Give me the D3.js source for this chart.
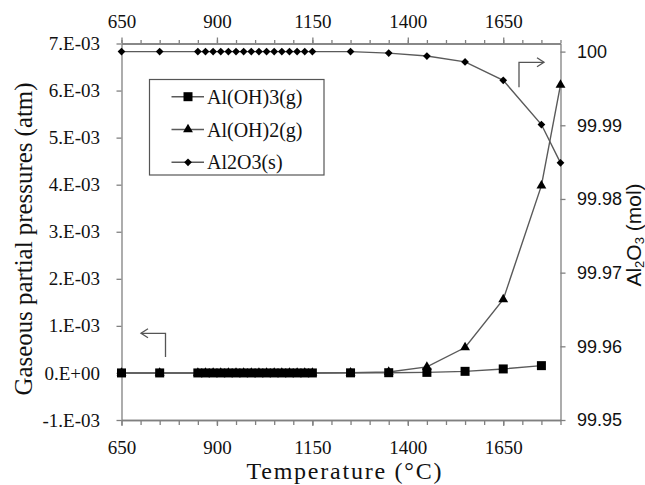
<!DOCTYPE html>
<html>
<head>
<meta charset="utf-8">
<script src="https://cdn.jsdelivr.net/npm/d3@7"></script>
<style>
  body { margin: 0; background: #fff; }
</style>
</head>
<body>
<div id="chart"></div>
<script>
/**
 * Data.
 */
// Temperature steps (°C).
const temperatures = [650, 750, 850, 870, 890, 910, 930, 950, 970, 990, 1010, 1030, 1050, 1070, 1090, 1110, 1130, 1150, 1250, 1350, 1450, 1550, 1650, 1750, 1800];
// Gaseous partial pressures (atm), left axis.
const alOH3 = [0, 0, 0, 0, 0, 0, 0, 0, 0, 0, 0, 0, 0, 0, 0, 0, 0, 0, 0.000002, 0.000005, 0.000012, 0.000034, 0.000085, 0.000155, null];
const alOH2 = [0, 0, 0, 0, 0, 0, 0, 0, 0, 0, 0, 0, 0, 0, 0, 0, 0, 0, 0.000003, 0.00002, 0.00013, 0.00054, 0.00156, 0.00398, 0.00612];
// Remaining Al2O3 (mol), right axis.
const al2o3 = [100, 100, 100, 100, 100, 100, 100, 100, 100, 100, 100, 100, 100, 100, 100, 100, 100, 100, 100, 99.9998, 99.9994, 99.9986, 99.9961, 99.9901, 99.9849];

const seriesNames = ["Al(OH)3(g)", "Al(OH)2(g)", "Al2O3(s)"];

// Ticks.
const xTicks = [650, 900, 1150, 1400, 1650];
const xMinorTicks = [650, 700, 750, 800, 850, 900, 950, 1000, 1050, 1100, 1150, 1200, 1250, 1300, 1350, 1400, 1450, 1500, 1550, 1600, 1650, 1700, 1750, 1800];
const leftTicks = [-0.001, 0, 0.001, 0.002, 0.003, 0.004, 0.005, 0.006, 0.007];
const leftTickLabels = ["-1.E-03", "0.E+00", "1.E-03", "2.E-03", "3.E-03", "4.E-03", "5.E-03", "6.E-03", "7.E-03"];
const rightTicks = [99.95, 99.96, 99.97, 99.98, 99.99, 100];
const rightTickLabels = ["99.95", "99.96", "99.97", "99.98", "99.99", "100"];

/**
 * SVG container.
 */
const width = 645;
const height = 485;
const marginTop = 43.5;
const marginRight = 84.5;
const marginBottom = 65;
const marginLeft = 121.5;

const serif = "'Liberation Serif', 'Times New Roman', serif";
const sans = "'Liberation Sans', Arial, sans-serif";
const axisColor = "#808080";
const lineColor = "#5a5a5a";

const svg = d3
  .select("#chart")
  .append("svg")
  .attr("width", width)
  .attr("height", height)
  .style("background", "#fff");

/**
 * Scales.
 */
const x = d3
  .scaleLinear()
  .domain([650, 1800])
  .range([marginLeft, width - marginRight]);

const yLeft = d3
  .scaleLinear()
  .domain([-0.001, 0.007])
  .range([height - marginBottom, marginTop]);

const yRight = d3
  .scaleLinear()
  .domain([99.95, 100.0011])
  .range([height - marginBottom, marginTop]);

/**
 * Axes.
 */
function styleAxis(g) {
  g.selectAll("path, line").attr("stroke", axisColor).attr("stroke-width", 1.3);
}

function styleLabels(g, family, size) {
  g.selectAll("text").attr("font-family", family).attr("font-size", size).attr("fill", "#111");
}

// Minor ticks on bottom and top.
svg
  .append("g")
  .attr("transform", `translate(0,${height - marginBottom})`)
  .call(d3.axisBottom(x).tickValues(xMinorTicks).tickSize(5).tickSizeOuter(0).tickFormat(""))
  .call(styleAxis);
svg
  .append("g")
  .attr("transform", `translate(0,${marginTop})`)
  .call(d3.axisTop(x).tickValues(xMinorTicks).tickSize(3.5).tickSizeOuter(0).tickFormat(""))
  .call(styleAxis);

// Major ticks with labels.
svg
  .append("g")
  .attr("transform", `translate(0,${height - marginBottom})`)
  .call(d3.axisBottom(x).tickValues(xTicks).tickSize(6).tickSizeOuter(0).tickPadding(15).tickFormat(d3.format("d")))
  .call(styleAxis)
  .call((g) => styleLabels(g, serif, 19));
svg
  .append("g")
  .attr("transform", `translate(0,${marginTop})`)
  .call(d3.axisTop(x).tickValues(xTicks).tickSize(6).tickSizeOuter(0).tickPadding(10).tickFormat(d3.format("d")))
  .call(styleAxis)
  .call((g) => styleLabels(g, serif, 19));

svg
  .append("g")
  .attr("transform", `translate(${marginLeft},0)`)
  .call(d3.axisLeft(yLeft).tickValues(leftTicks).tickSize(5).tickSizeOuter(0).tickPadding(16.5).tickFormat((d, i) => leftTickLabels[i]))
  .call(styleAxis)
  .call((g) => styleLabels(g, serif, 19));

svg
  .append("g")
  .attr("transform", `translate(${width - marginRight},0)`)
  .call(d3.axisRight(yRight).tickValues(rightTicks).tickSize(5).tickSizeOuter(0).tickPadding(11.5).tickFormat((d, i) => rightTickLabels[i]))
  .call(styleAxis)
  .call((g) => styleLabels(g, sans, 18));

/**
 * Series.
 */
const series = [
  { name: seriesNames[0], values: alOH3, y: yLeft, symbol: d3.symbolSquare, size: 81, rotate: 0 },
  { name: seriesNames[1], values: alOH2, y: yLeft, symbol: d3.symbolTriangle, size: 42, rotate: 0 },
  { name: seriesNames[2], values: al2o3, y: yRight, symbol: d3.symbolSquare, size: 30, rotate: 45 },
];

series.forEach((s) => {
  s.points = temperatures
    .map((t, i) => ({ t, v: s.values[i] }))
    .filter((d) => d.v !== null);

  const line = d3
    .line()
    .x((d) => x(d.t))
    .y((d) => s.y(d.v));

  svg
    .append("path")
    .datum(s.points)
    .attr("d", line)
    .attr("fill", "none")
    .attr("stroke", lineColor)
    .attr("stroke-width", 1.4);
});

// Markers drawn after all lines; the squares go on top so that the zero run reads as one bar.
[series[1], series[2], series[0]].forEach((s) => {
  svg
    .append("g")
    .selectAll("path")
    .data(s.points)
    .join("path")
    .attr("d", d3.symbol(s.symbol, s.size))
    .attr("transform", (d) => `translate(${x(d.t)},${s.y(d.v)}) rotate(${s.rotate})`)
    .attr("fill", "#000");
});

/**
 * Legend.
 */
const legend = svg.append("g");
legend
  .append("rect")
  .attr("x", 149.5)
  .attr("y", 79.5)
  .attr("width", 174.5)
  .attr("height", 95.5)
  .attr("fill", "#fff")
  .attr("stroke", "#555")
  .attr("stroke-width", 1.2);

series.forEach((s, i) => {
  const yPos = 96.7 + i * 32.8;
  legend
    .append("line")
    .attr("x1", 171.5)
    .attr("x2", 204)
    .attr("y1", yPos)
    .attr("y2", yPos)
    .attr("stroke", lineColor)
    .attr("stroke-width", 1.4);
  legend
    .append("path")
    .attr("d", d3.symbol(s.symbol, s.size))
    .attr("transform", `translate(188,${yPos}) rotate(${s.rotate})`)
    .attr("fill", "#000");
  legend
    .append("text")
    .attr("x", 207)
    .attr("y", yPos + 7)
    .attr("font-family", serif)
    .attr("font-size", 20)
    .attr("fill", "#111")
    .text(s.name);
});

/**
 * Arrows pointing to each axis.
 */
function arrow(points, tip, dir) {
  svg
    .append("path")
    .attr("d", d3.line()(points))
    .attr("fill", "none")
    .attr("stroke", "#555")
    .attr("stroke-width", 1.3);
  svg
    .append("path")
    .attr("d", d3.line()([[tip[0] - dir * 7, tip[1] - 4.5], tip, [tip[0] - dir * 7, tip[1] + 4.5]]))
    .attr("fill", "none")
    .attr("stroke", "#555")
    .attr("stroke-width", 1.3);
}
arrow([[165.5, 357], [165.5, 333.3], [141, 333.3]], [141, 333.3], -1);
arrow([[519, 87.3], [519, 62.3], [544, 62.3]], [544, 62.3], 1);

/**
 * Titles.
 */
svg
  .append("text")
  .attr("x", 344)
  .attr("y", 478.5)
  .attr("text-anchor", "middle")
  .attr("font-family", serif)
  .attr("font-size", 24)
  .attr("fill", "#111")
  .attr("textLength", 195)
  .text("Temperature (°C)");

svg
  .append("text")
  .attr("transform", "translate(31.5,239) rotate(-90)")
  .attr("text-anchor", "middle")
  .attr("font-family", serif)
  .attr("font-size", 25)
  .attr("fill", "#111")
  .attr("textLength", 313)
  .attr("lengthAdjust", "spacingAndGlyphs")
  .text("Gaseous partial pressures (atm)");

const rightTitle = svg
  .append("text")
  .attr("transform", "translate(640.5,235) rotate(-90)")
  .attr("text-anchor", "middle")
  .attr("font-family", sans)
  .attr("font-size", 21)
  .attr("fill", "#111");
rightTitle.append("tspan").text("Al");
rightTitle.append("tspan").attr("font-size", 13).attr("dy", 3).text("2");
rightTitle.append("tspan").attr("dy", -3).text("O");
rightTitle.append("tspan").attr("font-size", 13).attr("dy", 3).text("3");
rightTitle.append("tspan").attr("dy", -3).text(" (mol)");
</script>
</body>
</html>
